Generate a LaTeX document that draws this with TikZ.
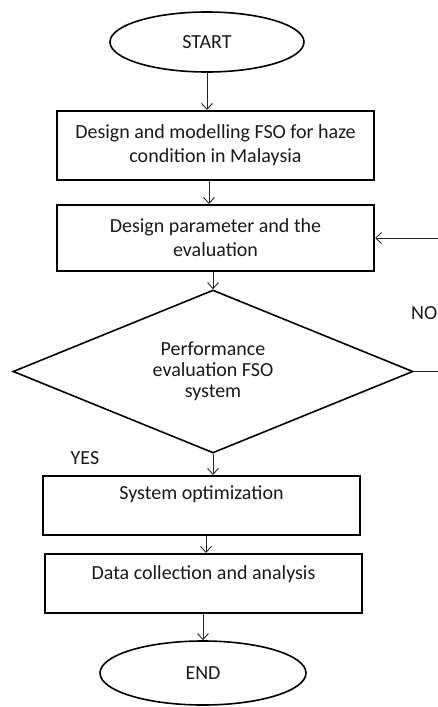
\documentclass[tikz,border=0pt]{standalone}
\usepackage{fontspec}
\setmainfont{Carlito}
\usetikzlibrary{shapes.geometric,arrows.meta,calc}

\tikzset{
  txt/.style={font=\fontsize{20}{24}\selectfont, text=black!90, align=center},
  terminal/.style={ellipse, draw, line width=1.6pt, inner sep=0pt, txt},
  procbox/.style={rectangle, draw, line width=2pt, inner sep=0pt,
    minimum width=317pt, txt},
  decision/.style={diamond, draw, line width=1.6pt, inner sep=0pt, aspect=2.45,
    minimum width=400pt, minimum height=163pt, txt,
    font=\fontsize{20}{21}\selectfont},
  arr/.style={line width=0.9pt, draw=black!85,
    -{Straight Barb[length=6pt,width=11pt,line width=0.9pt]}},
  tag/.style={txt}
}

\begin{document}
\begin{tikzpicture}[x=1pt,y=-1pt]
  \path[use as bounding box] (0,0) rectangle (438,707);
  \clip (0,0) rectangle (438,707);

  % flow nodes
  \node[terminal, minimum width=194pt, minimum height=60pt] (start) at (207,42) {START};
  \node[procbox, minimum height=69pt] (b1) at (215.5,145.5)
    {Design and modelling FSO for haze\\condition in Malaysia};
  \node[procbox, minimum height=66pt] (b2) at (215.5,238)
    {Design parameter and the\\evaluation};
  \node[decision] (dec) at (213,371.5)
    {Performance\\evaluation FSO\\system};
  \node[procbox, minimum height=59pt,
    label={[txt, name=b3t, anchor=center, yshift=-19pt]north:System optimization}]
    (b3) at (201.5,505.5) {};
  \node[procbox, minimum height=59pt,
    label={[txt, name=b4t, anchor=center, yshift=-21pt]north:Data collection and analysis}]
    (b4) at (203.5,583.5) {};
  \node[terminal, minimum width=206pt, minimum height=64pt] (end) at (203,673) {END};

  % branch labels
  \node[tag] (yes) at (85,458) {YES};
  \node[tag, anchor=west, inner sep=0pt] (no) at (411,313) {NO};

  % connectors
  \draw[arr] (start.south) -- (start.south |- b1.north);
  \draw[arr] ([xshift=-6.5pt]b1.south) -- ([xshift=-6.5pt]b1.south |- b2.north);
  \draw[arr] (dec.north |- b2.south) -- (dec.north);
  \draw[arr] (dec.south) -- (dec.south |- b3.north);
  \draw[arr] ([xshift=4.5pt]b3.south) -- ([xshift=4.5pt]b3.south |- b4.north);
  \draw[arr] (end.north |- b4.south) -- (end.north);

  % loop back when the evaluation fails
  \coordinate (loop) at ($(dec.east)+(50,0)$);
  \draw[arr] (dec.east) -- (loop) |- (b2.east);
\end{tikzpicture}
\end{document}
